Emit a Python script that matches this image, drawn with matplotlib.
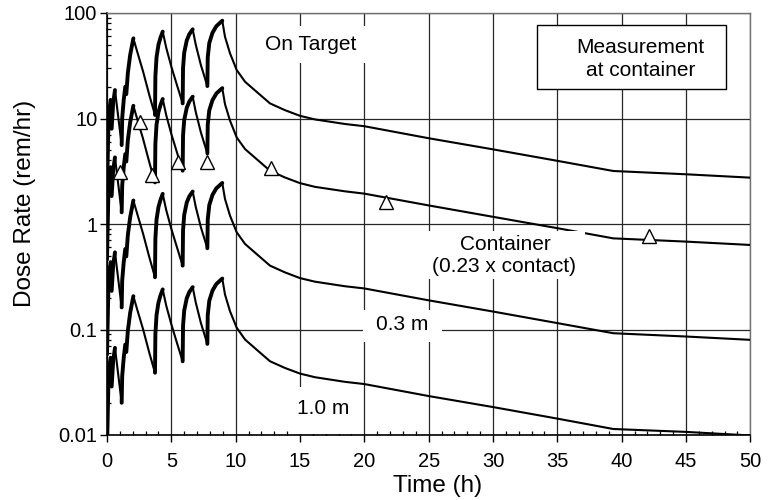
import matplotlib
matplotlib.use("Agg")
import matplotlib.pyplot as plt
from matplotlib.ticker import FixedLocator, MultipleLocator, LogLocator, NullFormatter, FixedFormatter
from matplotlib.patches import Rectangle
import numpy as np

plt.rcParams['font.family'] = ['Liberation Sans', 'DejaVu Sans']

# ---- data ----
time_h = [0.0, 0.12, 0.28, 0.36, 0.48, 0.62, 1.14, 1.18, 1.30, 1.42, 1.50, 1.62, 1.80, 2.05,
          2.30, 2.80, 3.30, 3.73, 3.76, 3.85, 4.00, 4.15, 4.33, 4.60, 5.00, 5.45, 5.88,
          5.91, 6.00, 6.20, 6.40, 6.66, 6.90, 7.30, 7.80, 7.83, 7.95, 8.20, 8.50, 8.96,
          9.17, 9.56, 10.08, 10.73, 11.63, 12.67, 13.83, 15.0, 16.16, 18.5, 20, 25, 30, 35,
          39.35, 45, 50]

on_target = [2.0, 10, 15, 8, 14, 18.6, 5.6, 10, 15, 20, 17, 27, 40, 57.5,
             45, 28, 16.5, 10.8, 25, 38, 50, 58, 66.6, 47, 31, 20.5, 13.9,
             30, 42, 55, 63, 70, 50, 32, 20.3, 38, 52, 65, 75, 84.5,
             59.6, 41.5, 28.8, 22.3, 17.9, 13.9, 12.0, 10.6, 9.8, 8.87, 8.45, 6.5, 5.1, 3.97,
             3.18, 2.96, 2.75]

container = [0.46, 2.3, 3.45, 1.84, 3.22, 4.28, 1.29, 2.3, 3.45, 4.6, 3.91, 6.21, 9.2, 13.2,
             10.35, 6.44, 3.8, 2.48, 5.75, 8.74, 11.5, 13.3, 15.3, 10.8, 7.13, 4.72, 3.2,
             6.9, 9.66, 12.65, 14.5, 16.1, 11.5, 7.36, 4.67, 8.74, 11.96, 14.95, 17.25, 19.4,
             13.7, 9.55, 6.62, 5.13, 4.12, 3.2, 2.76, 2.44, 2.25, 2.04, 1.94, 1.5, 1.17, 0.913,
             0.731, 0.681, 0.633]

at_0_3m = [0.058, 0.29, 0.435, 0.232, 0.406, 0.539, 0.162, 0.29, 0.435, 0.58, 0.493, 0.783, 1.16, 1.67,
           1.31, 0.812, 0.479, 0.313, 0.725, 1.10, 1.45, 1.68, 1.93, 1.36, 0.899, 0.595, 0.403,
           0.87, 1.22, 1.6, 1.83, 2.03, 1.45, 0.928, 0.589, 1.10, 1.51, 1.89, 2.18, 2.45,
           1.73, 1.2, 0.835, 0.647, 0.519, 0.403, 0.348, 0.307, 0.284, 0.257, 0.245, 0.189, 0.148, 0.115,
           0.0922, 0.0858, 0.0798]

at_1_0m = [0.0072, 0.036, 0.054, 0.0288, 0.0504, 0.067, 0.0202, 0.036, 0.054, 0.072, 0.0612, 0.0972, 0.144, 0.207,
           0.162, 0.101, 0.0594, 0.0389, 0.09, 0.137, 0.18, 0.209, 0.24, 0.169, 0.112, 0.0738, 0.05,
           0.108, 0.151, 0.198, 0.227, 0.252, 0.18, 0.115, 0.0731, 0.137, 0.187, 0.234, 0.27, 0.304,
           0.215, 0.149, 0.104, 0.0803, 0.0644, 0.05, 0.0432, 0.0382, 0.0353, 0.0319, 0.0304, 0.0234, 0.0184, 0.0143,
           0.0114, 0.0107, 0.0099]

meas_time = [1.0, 2.53, 3.47, 5.5, 7.8, 12.75, 21.65, 42.15]
meas_rate = [3.1, 9.2, 2.91, 3.87, 3.87, 3.42, 1.63, 0.77]

x_ticks = [0, 5, 10, 15, 20, 25, 30, 35, 40, 45, 50]
y_ticks = [0.01, 0.1, 1, 10, 100]
y_tick_labels = ["0.01", "0.1", "1", "10", "100"]

# ---- figure ----
W, H = 768, 500
fig = plt.figure(figsize=(W / 100, H / 100), dpi=100)
AX_L, AX_R, AX_T, AX_B = 107, 750.3, 13, 435
ax = fig.add_axes([AX_L / W, 1 - AX_B / H, (AX_R - AX_L) / W, (AX_B - AX_T) / H])
ax.set_yscale('log')
ax.set_xlim(0, 50)
ax.set_ylim(0.01, 100)


def px(x, y):
    return ((x - AX_L) / (AX_R - AX_L), (AX_B - y) / (AX_B - AX_T))


ax.grid(True, which='major', color='#262626', lw=0.9, zorder=1)
ax.set_axisbelow(True)

for series in (on_target, container, at_0_3m, at_1_0m):
    ax.plot(time_h, series, color='black', lw=1.5, zorder=3, solid_joinstyle='round')
    # heavier stroke on build-up (irradiation) portions
    t = np.asarray(time_h)
    v = np.asarray(series)
    run = []
    for i in range(len(t) - 1):
        if v[i + 1] > v[i]:
            if not run:
                run = [i]
            run.append(i + 1)
        else:
            if run:
                ax.plot(t[run], v[run], color='black', lw=2.8, zorder=3, solid_capstyle='round')
                run = []
    if run:
        ax.plot(t[run], v[run], color='black', lw=2.8, zorder=3)

ax.plot(meas_time, meas_rate, linestyle='none', marker='^', markersize=9.5,
        markerfacecolor='white', markeredgecolor='black', markeredgewidth=1.0, zorder=5)

# ticks
ax.xaxis.set_major_locator(FixedLocator(x_ticks))
ax.xaxis.set_minor_locator(MultipleLocator(1))
ax.yaxis.set_major_locator(FixedLocator(y_ticks))
ax.yaxis.set_major_formatter(FixedFormatter(y_tick_labels))
ax.yaxis.set_minor_locator(LogLocator(base=10, subs=np.arange(2, 10), numticks=20))
ax.yaxis.set_minor_formatter(NullFormatter())
ax.tick_params(axis='both', which='major', direction='out', length=5, width=1.0, labelsize=14.5, colors='black')
ax.tick_params(axis='x', which='major', pad=7)
ax.tick_params(axis='y', which='major', pad=2)
ax.tick_params(axis='both', which='minor', direction='in', length=3, width=0.9)

for s in ('left', 'bottom'):
    ax.spines[s].set_color('black')
    ax.spines[s].set_linewidth(1.2)
for s in ('top', 'right'):
    ax.spines[s].set_color('#707070')
    ax.spines[s].set_linewidth(1.0)

# axis titles
fig.text(25 / W, 1 - 203.5 / H, "Dose Rate (rem/hr)", rotation=90, ha='center', va='center', fontsize=17.5)
fig.text(437.5 / W, 1 - 486 / H, "Time (h)", ha='center', va='center', fontsize=17.5)


def whiteout(x0, y0, x1, y1):
    a = px(x0, y1)
    b = px(x1, y0)
    ax.add_patch(Rectangle(a, b[0] - a[0], b[1] - a[1], transform=ax.transAxes,
                           facecolor='white', edgecolor='none', zorder=6, clip_on=False))


def label(x, y, s, **kw):
    ax.text(*px(x, y), s, transform=ax.transAxes, ha='center', va='center',
            fontsize=15, zorder=7, **kw)


# On Target
whiteout(255, 26, 368, 63)
label(311, 44.5, "On Target")

# Measurement box
a = px(536.7, 89)
b = px(726, 25)
ax.add_patch(Rectangle(a, b[0] - a[0], b[1] - a[1], transform=ax.transAxes,
                       facecolor='white', edgecolor='black', lw=1.0, zorder=6))
label(640.5, 47.5, "Measurement")
label(640.5, 71, "at container")

# Container
whiteout(425, 231, 585, 279)
label(505, 244, "Container")
label(504.5, 266, "(0.23 x contact)")

# 0.3 m
whiteout(362.7, 310, 442, 342)
label(402, 324.5, "0.3 m")

# 1.0 m
whiteout(290, 387, 358, 433.5)
label(323, 408.5, "1.0 m")

fig.savefig("out.png", dpi=100)
